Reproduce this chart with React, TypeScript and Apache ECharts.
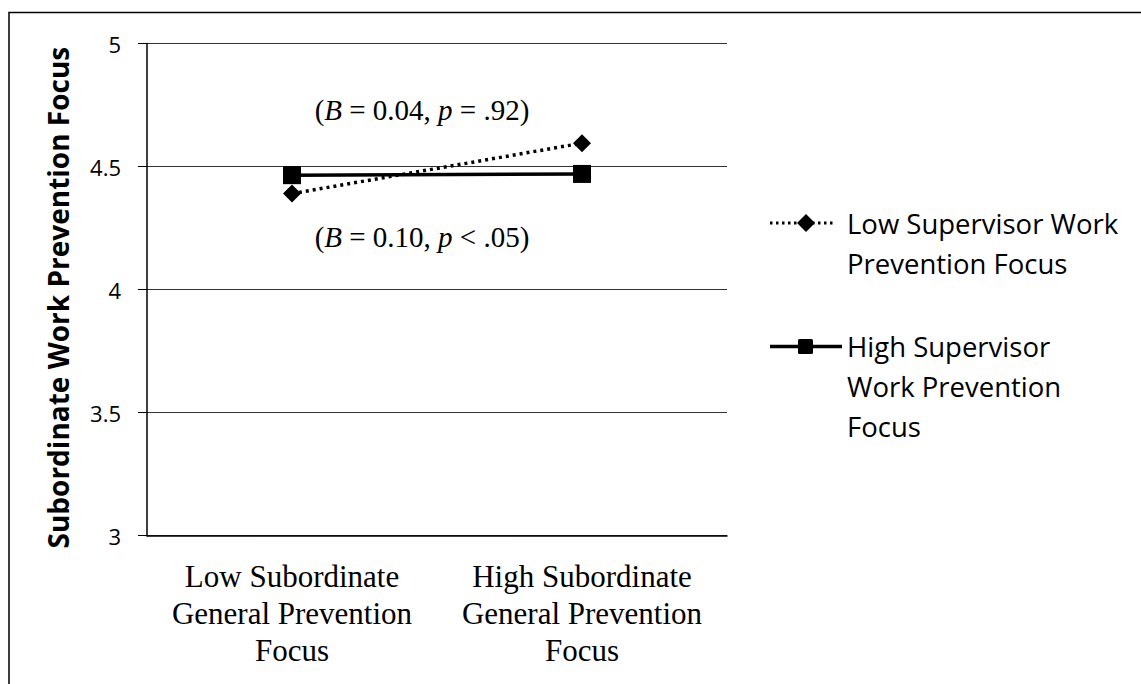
import React, { useEffect, useRef } from "react";
import * as echarts from "echarts";

const categories = [
  "Low Subordinate\nGeneral Prevention\nFocus",
  "High Subordinate\nGeneral Prevention\nFocus",
];
const lowSupervisor = [4.39, 4.595];
const highSupervisor = [4.465, 4.47];
const seriesNames = [
  "Low Supervisor Work\nPrevention Focus",
  "High Supervisor\nWork Prevention\nFocus",
];
const annotations = [
  { B: "0.04", p: "= .92" },
  { B: "0.10", p: "< .05" },
];
const yTicks = { min: 3, max: 5, interval: 0.5 };

const SANS = "'Open Sans', 'Noto Sans', sans-serif";
const SERIF = "'Liberation Serif', 'Times New Roman', serif";

export default function App() {
  const ref = useRef<HTMLDivElement>(null);
  useEffect(() => {
    if (!ref.current) return;
    const chart = echarts.init(ref.current, undefined, { renderer: "svg" });
    const rich = {
      n: { fontFamily: SERIF, fontSize: 29, fill: "#000" },
      i: { fontFamily: SERIF, fontSize: 29, fontStyle: "italic", fill: "#000" },
    };
    chart.setOption({
      animation: false,
      backgroundColor: "#fff",
      grid: { left: 147, right: 414, top: 43.5, bottom: 148.3 },
      xAxis: {
        type: "category",
        data: categories,
        boundaryGap: true,
        axisLine: { lineStyle: { color: "#000", width: 1.5 } },
        axisTick: { show: false },
        axisLabel: {
          interval: 0,
          fontFamily: SERIF,
          fontSize: 31,
          color: "#000",
          lineHeight: 37,
          margin: 22,
        },
      },
      yAxis: {
        type: "value",
        min: yTicks.min,
        max: yTicks.max,
        interval: yTicks.interval,
        name: "Subordinate Work Prevention Focus",
        nameLocation: "middle",
        nameGap: 75,
        nameTextStyle: {
          fontFamily: SANS,
          fontSize: 28,
          fontWeight: "bold",
          color: "#000",
          padding: [0, 16, 0, 0],
        },
        axisLine: { show: true, lineStyle: { color: "#000", width: 1.5 } },
        axisTick: { show: true, length: 9, lineStyle: { color: "#000", width: 1 } },
        axisLabel: {
          fontFamily: SANS,
          fontSize: 22,
          color: "#000",
          margin: 26,
          formatter: (v: number) => String(v),
        },
        splitLine: { show: true, lineStyle: { color: "#333", width: 1 } },
      },
      series: [
        {
          name: seriesNames[0],
          type: "line",
          data: lowSupervisor,
          symbol: "diamond",
          symbolSize: [18, 18],
          lineStyle: { color: "#000", width: 3.5, type: [3, 4] },
          itemStyle: { color: "#000" },
          z: 3,
        },
        {
          name: seriesNames[1],
          type: "line",
          data: highSupervisor,
          symbol: "rect",
          symbolSize: 18,
          lineStyle: { color: "#000", width: 3.5, type: "solid" },
          itemStyle: { color: "#000" },
          z: 2,
        },
      ],
      graphic: [
        {
          type: "rect",
          shape: { x: 9, y: 12.5, width: 1300, height: 900 },
          style: { fill: "none", stroke: "#000", lineWidth: 1.5 },
          silent: true,
        },
        {
          type: "text",
          x: 422,
          y: 110,
          style: {
            text: `{n|(}{i|B}{n| = ${annotations[0].B}, }{i|p}{n| ${annotations[0].p})}`,
            rich,
            align: "center",
            verticalAlign: "middle",
          },
        },
        {
          type: "text",
          x: 422,
          y: 237,
          style: {
            text: `{n|(}{i|B}{n| = ${annotations[1].B}, }{i|p}{n| ${annotations[1].p})}`,
            rich,
            align: "center",
            verticalAlign: "middle",
          },
        },
        // legend item 1
        {
          type: "line",
          shape: { x1: 770, y1: 223, x2: 836, y2: 223 },
          style: { stroke: "#000", lineWidth: 3, lineDash: [2.5, 3.5] },
        },
        {
          type: "polygon",
          shape: { points: [[806, 214], [815, 223], [806, 232], [797, 223]] },
          style: { fill: "#000" },
        },
        {
          type: "text",
          x: 847,
          y: 223 - 20,
          style: {
            text: seriesNames[0],
            fontFamily: SANS,
            fontSize: 27.5,
            lineHeight: 40,
            fill: "#000",
            align: "left",
            verticalAlign: "top",
          },
        },
        // legend item 2
        {
          type: "line",
          shape: { x1: 770, y1: 346.5, x2: 842, y2: 346.5 },
          style: { stroke: "#000", lineWidth: 3.5 },
        },
        {
          type: "rect",
          shape: { x: 798, y: 339, width: 15, height: 15, r: 1.5 },
          style: { fill: "#000" },
        },
        {
          type: "text",
          x: 847,
          y: 346.5 - 20,
          style: {
            text: seriesNames[1],
            fontFamily: SANS,
            fontSize: 27.5,
            lineHeight: 40,
            fill: "#000",
            align: "left",
            verticalAlign: "top",
          },
        },
      ],
    });
    return () => chart.dispose();
  }, []);
  return (
    <div
      ref={ref}
      style={{ position: "fixed", left: 0, top: 0, width: 1141, height: 684 }}
    />
  );
}
